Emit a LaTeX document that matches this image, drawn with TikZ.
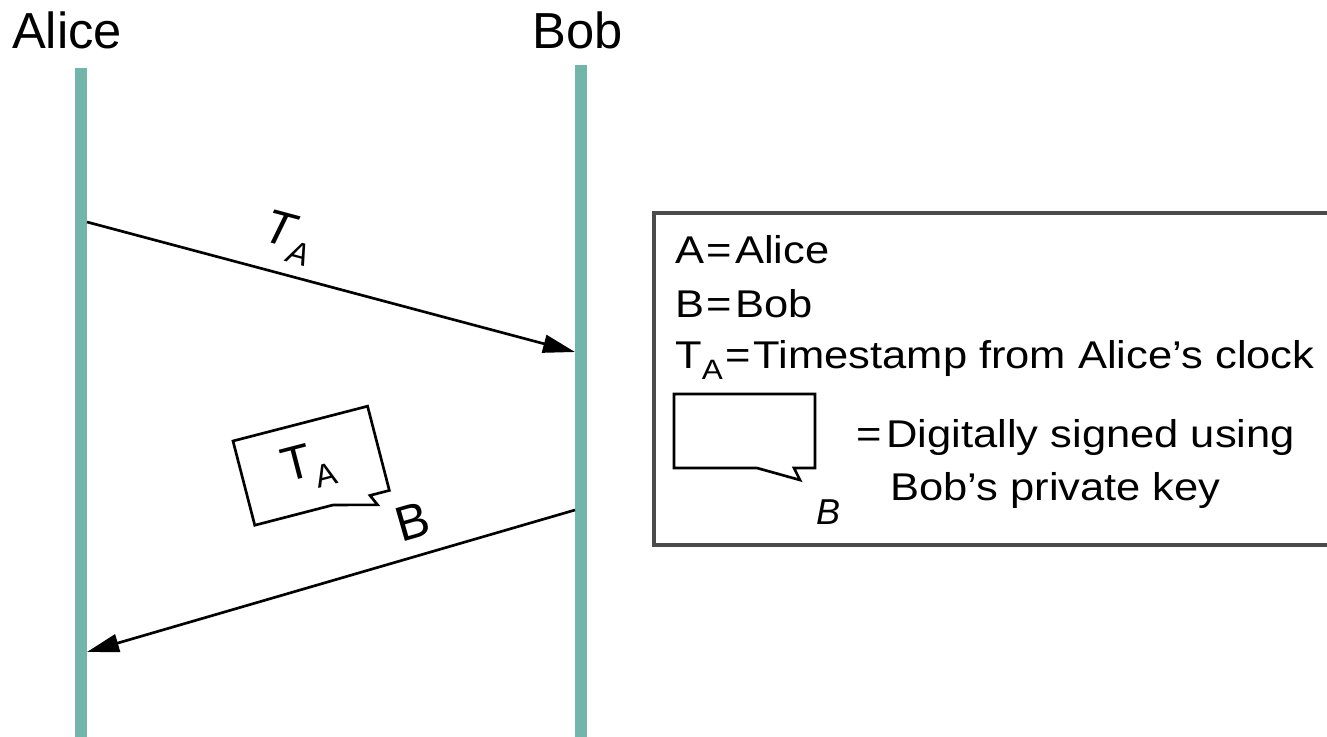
\documentclass[tikz,border=0pt]{standalone}
\usepackage{fontspec}
\setmainfont{Liberation Sans}
\newfontfamily\legfont[FakeStretch=1.125]{Liberation Sans}
\usetikzlibrary{arrows.meta}
\definecolor{life}{RGB}{114,181,170}
\definecolor{boxgray}{RGB}{75,75,75}
\newcommand\subA[1]{\raisebox{-0.3em}{\fontsize{#1}{#1}\selectfont A}}
\newcommand\eqs{\kern0.06em=\kern0.08em}
\begin{document}
\begin{tikzpicture}[x=0.75pt,y=-0.75pt,
  lifeline/.style={draw=life,line width=8.5pt},
  msg/.style={draw=black,line width=2pt,-{Triangle[length=24pt,width=13.5pt]}},
  bubble/.style={draw=black,line width=2pt,fill=white,line join=miter},
  legbox/.style={draw=boxgray,line width=2.4pt},
  party/.style={font=\fontsize{38}{40}\selectfont,inner sep=0pt,anchor=base},
  msglabel/.style={font=\fontsize{36}{38}\selectfont\itshape,inner sep=0pt},
  siglabel/.style={font=\fontsize{37}{39}\selectfont,inner sep=0pt},
  legtext/.style={font=\legfont\fontsize{29}{31}\selectfont,inner sep=0pt,anchor=base west}]
\useasboundingbox (0,0) rectangle (1327,736);
% parties
\node[party] (alice) at (67,48) {Alice};
\node[party] (bob) at (578,48) {Bob};
\coordinate (aTop) at (81,68);
\coordinate (aBot) at (81,745);
\coordinate (bTop) at (581,65);
\coordinate (bBot) at (581,745);
\draw[lifeline] (aTop) -- (aBot);
\draw[lifeline] (bTop) -- (bBot);
% message 1
\coordinate (m1s) at (87,222);
\coordinate (m1e) at (575,352);
\draw[msg] (m1s) -- (m1e);
\node[msglabel,rotate=-15] (ta1) at (288,238) {T\subA{24}};
% message 2
\coordinate (m2s) at (575,510);
\coordinate (m2e) at (87,652);
\draw[msg] (m2s) -- (m2e);
\node[siglabel,rotate=16] (b2) at (413,522) {B};
\begin{scope}[shift={(233,441)},rotate=14.5]
  \draw[bubble] (0,0) -- (139,0) -- (139,87) -- (119,87) -- (124,98) -- (81,87) -- (0,87) -- cycle;
  \node[transform shape,font=\fontsize{36}{38}\selectfont,inner sep=0pt] (tab) at (67,44) {T\subA{24}};
\end{scope}
% legend
\draw[legbox] (1340,213) -- (654,213) -- (654,545) -- (1340,545);
\node[legtext] (l1) at (675,263) {A\eqs Alice};
\node[legtext] (l2) at (675,317) {B\eqs Bob};
\node[legtext] (l3) at (675,368) {T\subA{21}\eqs Timestamp from Alice’s clock};
\draw[bubble] (674,394) -- (815,394) -- (815,468) -- (794,468) -- (800,480) -- (757,468) -- (674,468) -- cycle;
\node[font=\fontsize{27}{29}\selectfont\itshape,inner sep=0pt] (lb) at (828,512) {B};
\node[legtext] (l4) at (856,447) {=\kern0.12em Digitally signed using};
\node[legtext] (l5) at (890,500) {Bob’s private key};
\end{tikzpicture}
\end{document}
